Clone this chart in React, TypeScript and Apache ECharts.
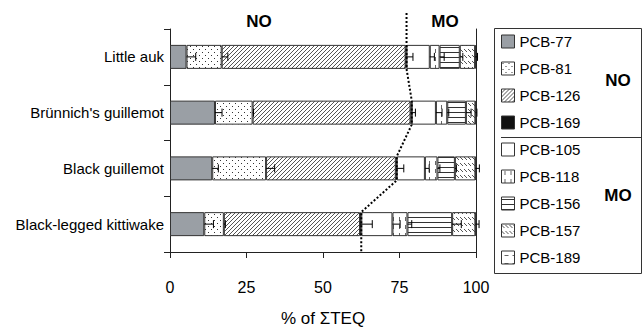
import React, { useEffect, useRef } from 'react';
import * as echarts from 'echarts';

const categories = ['Little auk', "Brünnich's guillemot", 'Black guillemot', 'Black-legged kittiwake'];
const congeners = ['PCB-77', 'PCB-81', 'PCB-126', 'PCB-169', 'PCB-105', 'PCB-118', 'PCB-156', 'PCB-157', 'PCB-189'];

// % of ΣTEQ per congener, per bird (in category order)
const pcb77 = [5.4, 14.7, 13.8, 11.2];
const pcb81 = [11.5, 12.3, 17.6, 6.4];
const pcb126 = [60.1, 51.6, 42.4, 44.5];
const pcb169 = [0.3, 0.4, 0.3, 0.4];
const pcb105 = [7.6, 7.9, 9.2, 10.2];
const pcb118 = [3.2, 3.7, 4.1, 4.9];
const pcb156 = [6.6, 6.1, 5.7, 14.6];
const pcb157 = [5.0, 3.1, 6.7, 7.6];
const pcb189 = [0.3, 0.2, 0.2, 0.2];

// plus-side error bars at the end of each segment
const err77 = [3.0, 2.3, 2.0, 3.0];
const err81 = [2.0, 0.3, 2.8, 0.5];
const err126 = [2.4, 1.6, 2.6, 4.0];
const err169 = [0, 0, 0, 0];
const err105 = [1.5, 2.0, 1.4, 2.5];
const err118 = [1.5, 0.5, 0.8, 1.4];
const err156 = [1.0, 1.7, 0.5, 3.0];
const err157 = [0.8, 0.5, 1.3, 1.2];
const err189 = [0, 0, 0, 0];

const xTicks = [0, 25, 50, 75, 100];
const groupLabels = ['NO', 'MO'];

const FONT = "'Liberation Sans', Arial, sans-serif";

function tile(w: number, h: number, draw: (ctx: CanvasRenderingContext2D) => void) {
  const c = document.createElement('canvas');
  c.width = w;
  c.height = h;
  const ctx = c.getContext('2d')!;
  ctx.fillStyle = '#ffffff';
  ctx.fillRect(0, 0, w, h);
  draw(ctx);
  return c;
}

function px(ctx: CanvasRenderingContext2D, pts: number[][], color: string) {
  ctx.fillStyle = color;
  pts.forEach(([x, y]) => ctx.fillRect(x, y, 1, 1));
}

export default function App() {
  const ref = useRef<HTMLDivElement>(null);

  useEffect(() => {
    if (!ref.current) return;
    const chart = echarts.init(ref.current, undefined, { renderer: 'svg' });

    const pat = (c: HTMLCanvasElement) => ({ image: c, repeat: 'repeat' } as any);
    const fills: any[] = [
      '#9a9fa5',
      pat(tile(6, 6, (ctx) => px(ctx, [[1, 1], [4, 4]], '#333'))),
      pat(tile(4, 4, (ctx) => px(ctx, [[3, 0], [2, 1], [1, 2], [0, 3]], '#555'))),
      '#111111',
      '#ffffff',
      pat(tile(6, 8, (ctx) => px(ctx, [[3, 1], [3, 2], [3, 3], [3, 4]], '#666'))),
      pat(tile(4, 5, (ctx) => px(ctx, [[0, 2], [1, 2], [2, 2], [3, 2]], '#333'))),
      pat(tile(4, 6, (ctx) => px(ctx, [[0, 1], [1, 2], [2, 3]], '#555'))),
      pat(tile(8, 8, (ctx) => px(ctx, [[3, 4], [4, 4], [5, 4], [6, 4]], '#666'))),
    ];

    const values = [pcb77, pcb81, pcb126, pcb169, pcb105, pcb118, pcb156, pcb157, pcb189];
    const errors = [err77, err81, err126, err169, err105, err118, err156, err157, err189];

    const errData: number[][] = [];
    const cum = categories.map(() => 0);
    values.forEach((arr, k) => {
      arr.forEach((v, i) => {
        cum[i] += v;
        const e = errors[k][i];
        if (e > 0) errData.push([i, cum[i], cum[i] + e]);
      });
    });
    const noTotals = categories.map((_, i) => pcb77[i] + pcb81[i] + pcb126[i] + pcb169[i]);

    const BAR = 24;

    const barSeries = congeners.map((name, k) => ({
      name,
      type: 'bar',
      stack: 'total',
      barWidth: BAR,
      silent: true,
      data: values[k],
      itemStyle: { color: fills[k], borderColor: '#333', borderWidth: 1 },
      emphasis: { disabled: true },
    }));

    const option: any = {
      animation: false,
      textStyle: { fontFamily: FONT },
      grid: { left: 170, right: 168, top: 29, bottom: 65 },
      xAxis: {
        type: 'value',
        min: xTicks[0],
        max: xTicks[xTicks.length - 1],
        interval: xTicks[1] - xTicks[0],
        splitLine: { show: false },
        axisLine: { show: true, lineStyle: { color: '#222' } },
        axisTick: { show: true, length: 6, lineStyle: { color: '#222' } },
        axisLabel: { margin: 27, fontSize: 16, color: '#000', fontFamily: FONT },
        name: '% of ΣTEQ',
        nameLocation: 'middle',
        nameGap: 58,
        nameTextStyle: { fontSize: 17, color: '#000', fontFamily: FONT },
      },
      yAxis: [
        {
          type: 'category',
          inverse: true,
          data: categories,
          axisLine: { show: true, lineStyle: { color: '#222' } },
          axisTick: { show: true, length: 6, lineStyle: { color: '#222' } },
          axisLabel: { margin: 6, fontSize: 15, color: '#000', fontFamily: FONT },
        },
        {
          type: 'category',
          position: 'right',
          inverse: true,
          data: categories,
          axisLine: { show: true, lineStyle: { color: '#222' } },
          axisTick: { show: false },
          axisLabel: { show: false },
        },
      ],
      legend: {
        data: congeners,
        orient: 'vertical',
        left: 501,
        top: 34,
        icon: 'rect',
        itemWidth: 13,
        itemHeight: 13,
        itemGap: 12,
        padding: 0,
        selectedMode: false,
        itemStyle: { borderColor: '#333', borderWidth: 1 },
        textStyle: { fontSize: 15, color: '#000', fontFamily: FONT },
      },
      graphic: [
        { type: 'rect', shape: { x: 494.5, y: 28.5, width: 147, height: 245 }, style: { fill: 'none', stroke: '#333', lineWidth: 1 }, z: 0 },
        { type: 'line', shape: { x1: 501, y1: 137.5, x2: 641.5, y2: 137.5 }, style: { stroke: '#333', lineWidth: 1 } },
        { type: 'text', x: 618, y: 80, style: { text: groupLabels[0], align: 'center', verticalAlign: 'middle', font: `bold 17px ${FONT}`, fill: '#000' } },
        { type: 'text', x: 618, y: 195, style: { text: groupLabels[1], align: 'center', verticalAlign: 'middle', font: `bold 17px ${FONT}`, fill: '#000' } },
        { type: 'text', x: 259, y: 21, style: { text: groupLabels[0], align: 'center', verticalAlign: 'middle', font: `bold 17px ${FONT}`, fill: '#000' } },
        { type: 'text', x: 445, y: 21, style: { text: groupLabels[1], align: 'center', verticalAlign: 'middle', font: `bold 17px ${FONT}`, fill: '#000' } },
      ],
      series: [
        ...barSeries,
        {
          type: 'custom',
          silent: true,
          z: 5,
          data: errData,
          encode: { x: [1, 2], y: 0 },
          renderItem: (params: any, api: any) => {
            const yi = api.value(0);
            const p0 = api.coord([api.value(1), yi]);
            const p1 = api.coord([api.value(2), yi]);
            return {
              type: 'group',
              children: [
                { type: 'line', shape: { x1: p0[0], y1: p0[1], x2: p1[0], y2: p1[1] }, style: { stroke: '#000', lineWidth: 1 } },
                { type: 'line', shape: { x1: p1[0], y1: p1[1] - 4, x2: p1[0], y2: p1[1] + 4 }, style: { stroke: '#000', lineWidth: 1 } },
              ],
            };
          },
        },
        {
          type: 'custom',
          silent: true,
          z: 6,
          data: [[noTotals[0], 0]],
          encode: { x: 0, y: 1 },
          renderItem: (params: any, api: any) => {
            const cs = params.coordSys;
            const pts: number[][] = [];
            noTotals.forEach((v, i) => {
              const p = api.coord([v, i]);
              if (i === 0) pts.push([p[0], cs.y - 16]);
              pts.push([p[0], p[1] - BAR / 2]);
              pts.push([p[0], p[1] + BAR / 2]);
              if (i === noTotals.length - 1) pts.push([p[0], cs.y + cs.height]);
            });
            return {
              type: 'polyline',
              shape: { points: pts },
              style: { stroke: '#000', lineWidth: 2, lineDash: [2, 2], fill: 'none' },
            };
          },
        },
      ],
    };

    chart.setOption(option);
    return () => chart.dispose();
  }, []);

  return <div ref={ref} style={{ position: 'absolute', left: 0, top: 0, width: 644, height: 332 }} />;
}
